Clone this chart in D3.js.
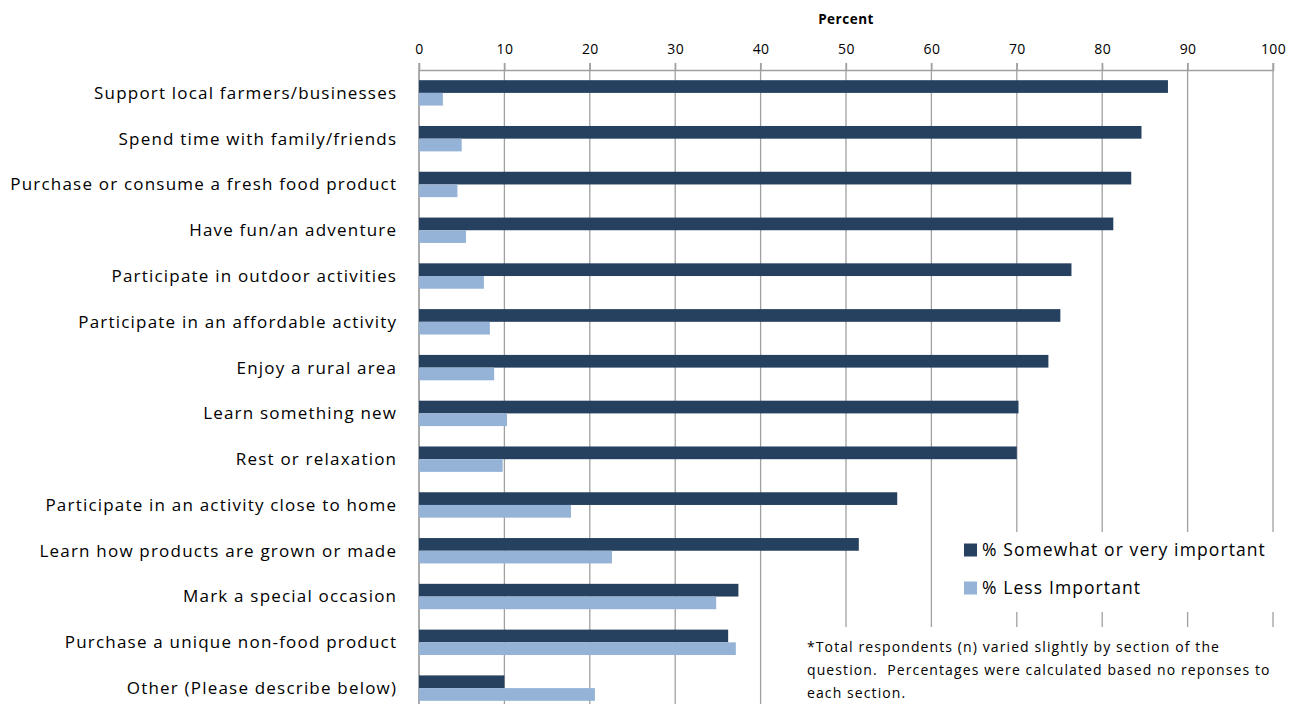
<!DOCTYPE html>
<html>
<head>
<meta charset="utf-8">
<script src="https://cdn.jsdelivr.net/npm/d3@7"></script>
<style>
  html, body { margin: 0; padding: 0; background: #fff; }
  svg { display: block; }
  text { font-family: "Open Sans", "Liberation Sans", Arial, sans-serif; fill: #000; }
</style>
</head>
<body>
<svg id="chart" width="1296" height="704"></svg>
<script>
// Reasons for visiting, in display order (top to bottom)
const categories = [
  "Support local farmers/businesses",
  "Spend time with family/friends",
  "Purchase or consume a fresh food product",
  "Have fun/an adventure",
  "Participate in outdoor activities",
  "Participate in an affordable activity",
  "Enjoy a rural area",
  "Learn something new",
  "Rest or relaxation",
  "Participate in an activity close to home",
  "Learn how products are grown or made",
  "Mark a special occasion",
  "Purchase a unique non-food product",
  "Other (Please describe below)"
];
const importantValues = [87.7, 84.6, 83.4, 81.3, 76.4, 75.1, 73.7, 70.2, 70.0, 56.0, 51.5, 37.4, 36.2, 10.0];
const lessImportantValues = [2.8, 5.0, 4.5, 5.5, 7.6, 8.3, 8.8, 10.3, 9.8, 17.8, 22.6, 34.8, 37.1, 20.6];
const seriesNames = ["% Somewhat or very important", "% Less Important"];
const seriesColors = ["#264060", "#95b3d7"];
const xTicks = [0, 10, 20, 30, 40, 50, 60, 70, 80, 90, 100];
const axisTitle = "Percent";
const noteLines = [
  "*Total respondents (n) varied slightly by section of the",
  "question.  Percentages were calculated based no reponses to",
  "each section."
];

const svg = d3.select("#chart");
const plot = { left: 419, right: 1273, top: 70, bottom: 711 };

const x = d3.scaleLinear().domain([0, 100]).range([plot.left, plot.right]);
const y = d3.scaleBand().domain(categories).range([plot.top, plot.bottom]).paddingInner(0).paddingOuter(0);
const barH = 12.7;

const gridColor = "#a0a0a0";

// vertical gridlines
svg.append("g").selectAll("line").data(xTicks).join("line")
  .attr("x1", d => x(d)).attr("x2", d => x(d))
  .attr("y1", plot.top - 7).attr("y2", 704)
  .attr("stroke", gridColor).attr("stroke-width", 1.3);

// top axis
const axis = d3.axisTop(x).tickValues(xTicks).tickSize(7).tickPadding(9);
const gAxis = svg.append("g").attr("transform", `translate(0,${plot.top})`).call(axis);
gAxis.select(".domain").attr("stroke", gridColor).attr("stroke-width", 1.3);
gAxis.selectAll(".tick line").attr("stroke", gridColor).attr("stroke-width", 1.3);
gAxis.selectAll(".tick text")
  .attr("font-family", "'Open Sans', 'Liberation Sans', Arial, sans-serif")
  .attr("font-size", 14).attr("letter-spacing", 0.4).attr("fill", "#000");

svg.append("text").attr("x", x(50)).attr("y", 24)
  .attr("text-anchor", "middle").attr("font-size", 13.5).attr("font-weight", "bold")
  .attr("letter-spacing", 0.5)
  .text(axisTitle);

// left category axis line
svg.append("line").attr("x1", plot.left).attr("x2", plot.left)
  .attr("y1", plot.top).attr("y2", 704)
  .attr("stroke", gridColor).attr("stroke-width", 1.3);

// bars
const series = [importantValues, lessImportantValues];
series.forEach((vals, si) => {
  svg.append("g").selectAll("rect").data(categories).join("rect")
    .attr("x", x(0))
    .attr("y", (c) => y(c) + y.bandwidth() / 2 - barH + si * barH)
    .attr("width", (c, i) => x(vals[i]) - x(0))
    .attr("height", barH)
    .attr("fill", seriesColors[si]);
});

// category labels
const labelSpacing = 1.2;
svg.append("g").selectAll("text").data(categories).join("text")
  .attr("x", plot.left - 23 + labelSpacing)
  .attr("y", c => y(c) + y.bandwidth() / 2)
  .attr("dy", "0.35em")
  .attr("text-anchor", "end")
  .attr("font-size", 17).attr("letter-spacing", labelSpacing)
  .text(d => d);

// legend (white box over gridlines)
const leg = svg.append("g");
leg.append("rect").attr("x", 948).attr("y", 532).attr("width", 340).attr("height", 80).attr("fill", "#fff");
seriesNames.forEach((name, i) => {
  const cy = 550 + i * 38;
  leg.append("rect").attr("x", 964).attr("y", cy - 6.5).attr("width", 13).attr("height", 13).attr("fill", seriesColors[i]);
  leg.append("text").attr("x", 982).attr("y", cy).attr("dy", "0.35em")
    .attr("font-size", 17.5).attr("letter-spacing", 1.1).text(name);
});

// footnote box
const note = svg.append("g");
note.append("rect").attr("x", 796).attr("y", 627).attr("width", 500).attr("height", 77).attr("fill", "#fff");
noteLines.forEach((t, i) => {
  note.append("text").attr("x", 807).attr("y", 647 + i * 23).attr("dy", "0.35em")
    .attr("font-size", 14).attr("letter-spacing", 1.1)
    .style("white-space", "pre").text(t);
});
</script>
</body>
</html>
